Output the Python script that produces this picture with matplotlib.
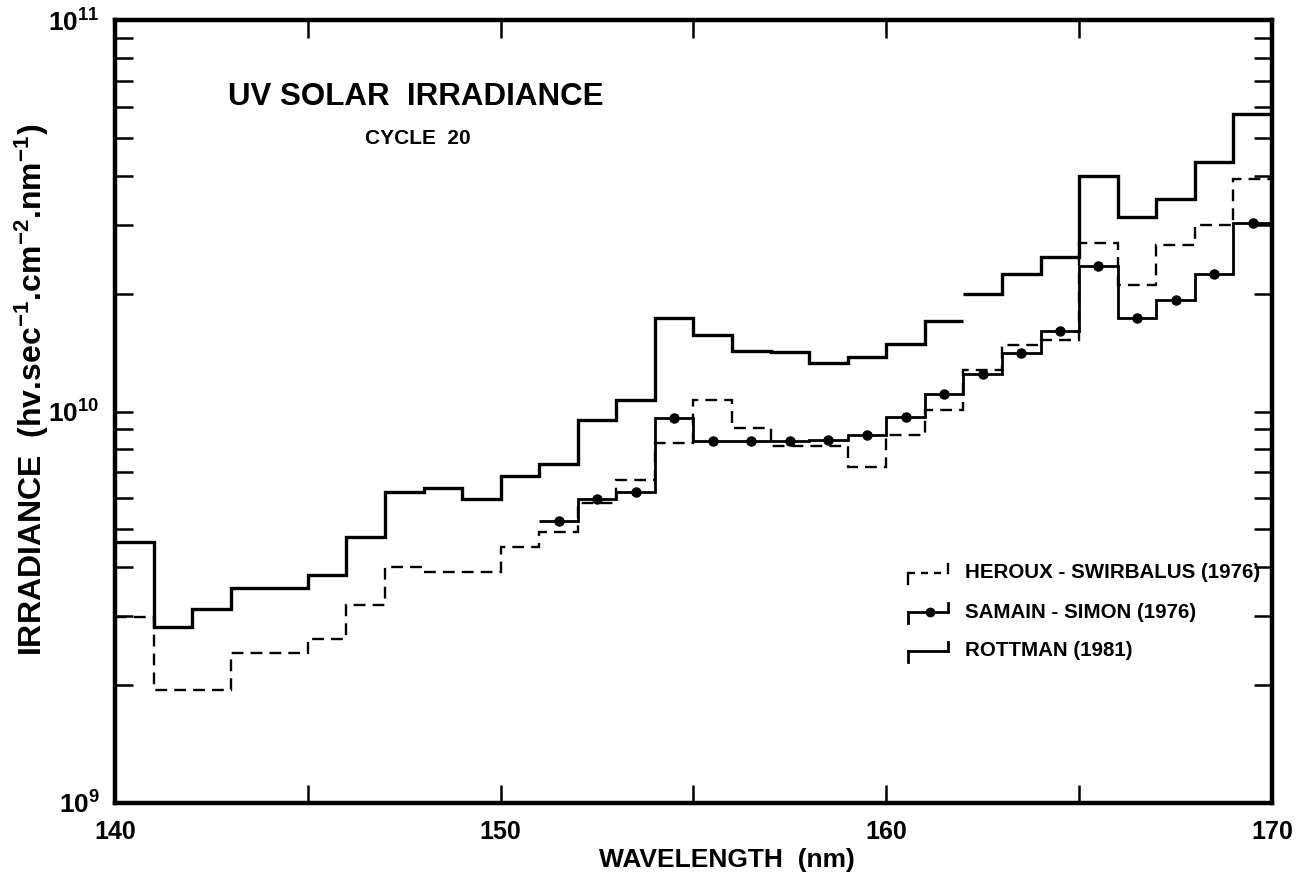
import matplotlib
matplotlib.use("Agg")
import matplotlib.pyplot as plt
from matplotlib.lines import Line2D
from matplotlib import font_manager
import numpy as np

# ---------------- data ----------------
# Rottman (1981), 1-nm bins, drawn in two pieces (gap at 162 nm)
rottman_edges_a = [140, 141, 142, 143, 144, 145, 146, 147, 148, 149, 150, 151, 152,
                   153, 154, 155, 156, 157, 158, 159, 160, 161, 162]
rottman_vals_a = [4.65e9, 2.82e9, 3.13e9, 3.55e9, 3.55e9, 3.83e9, 4.79e9, 6.24e9, 6.36e9,
                  5.99e9, 6.86e9, 7.36e9, 9.54e9, 1.067e10, 1.73e10, 1.565e10, 1.43e10,
                  1.415e10, 1.334e10, 1.374e10, 1.484e10, 1.70e10]
rottman_edges_b = [162, 163, 164, 165, 166, 167, 168, 169, 170]
rottman_vals_b = [1.99e10, 2.24e10, 2.48e10, 3.99e10, 3.13e10, 3.49e10, 4.33e10, 5.75e10]

# Heroux - Swirbalus (1976)
heroux_edges = [140, 141, 142, 143, 144, 145, 146, 147, 148, 149, 150, 151, 152, 153,
                154, 155, 156, 157, 158, 159, 160, 161, 162, 163, 164, 165, 166, 167,
                168, 169, 170]
heroux_vals = [2.99e9, 1.945e9, 1.945e9, 2.42e9, 2.42e9, 2.63e9, 3.21e9, 4.01e9, 3.90e9,
               3.90e9, 4.52e9, 4.93e9, 5.85e9, 6.70e9, 8.33e9, 1.067e10, 9.10e9, 8.14e9,
               8.14e9, 7.23e9, 8.73e9, 1.006e10, 1.28e10, 1.475e10, 1.52e10, 2.69e10,
               2.11e10, 2.67e10, 2.99e10, 3.92e10]

# Samain - Simon (1976)
samain_edges = [151, 152, 153, 154, 155, 156, 157, 158, 159, 160, 161, 162, 163, 164,
                165, 166, 167, 168, 169, 170]
samain_vals = [5.26e9, 5.99e9, 6.24e9, 9.60e9, 8.43e9, 8.43e9, 8.40e9, 8.45e9, 8.73e9,
               9.66e9, 1.11e10, 1.244e10, 1.41e10, 1.61e10, 2.36e10, 1.73e10, 1.93e10,
               2.25e10, 3.03e10]

x_ticks = [140, 150, 160, 170]
x_minor = [145, 155, 165]
y_ticks = [1e9, 1e10, 1e11]
y_ticklabels = [r"$\mathbf{10^{9}}$", r"$\mathbf{10^{10}}$", r"$\mathbf{10^{11}}$"]

legend_labels = ["HEROUX - SWIRBALUS (1976)", "SAMAIN - SIMON (1976)", "ROTTMAN (1981)"]

# ---------------- style ----------------
available = {f.name for f in font_manager.fontManager.ttflist}
FONT = "Liberation Sans" if "Liberation Sans" in available else "DejaVu Sans"
plt.rcParams["font.family"] = [FONT, "DejaVu Sans"]
plt.rcParams["font.weight"] = "bold"
plt.rcParams["mathtext.fontset"] = "custom"
plt.rcParams["mathtext.rm"] = f"{FONT}:bold"
plt.rcParams["mathtext.bf"] = f"{FONT}:bold"
plt.rcParams["mathtext.it"] = f"{FONT}:bold"

W, H = 1301, 876
fig = plt.figure(figsize=(W / 100, H / 100), dpi=100)
fig.patch.set_facecolor("white")

L, R, T, B = 115, 1272, 20, 803
ax = fig.add_axes([L / W, 1 - B / H, (R - L) / W, (B - T) / H])

ax.set_yscale("log")
ax.set_xlim(140, 170)
ax.set_ylim(1e9, 1e11)

# data
ax.stairs(rottman_vals_a, rottman_edges_a, baseline=None, color="black", lw=2.4)
ax.stairs(rottman_vals_b, rottman_edges_b, baseline=None, color="black", lw=2.4)
ax.stairs(heroux_vals, heroux_edges, baseline=None, color="black", lw=1.7,
          linestyle=(0, (5, 3)))
ax.stairs(samain_vals, samain_edges, baseline=None, color="black", lw=2.0)
centers = (np.array(samain_edges[:-1]) + np.array(samain_edges[1:])) / 2
ax.plot(centers, samain_vals, "o", color="black", ms=6.5, ls="none")

# axes styling
for s in ax.spines.values():
    s.set_linewidth(3.2)
ax.set_xticks(x_ticks)
ax.set_xticklabels([str(t) for t in x_ticks])
ax.set_xticks(x_minor, minor=True)
ax.set_yticks(y_ticks)
ax.set_yticklabels(y_ticklabels)
ax.yaxis.set_minor_locator(matplotlib.ticker.LogLocator(base=10, subs=np.arange(2, 10)))
ax.yaxis.set_minor_formatter(matplotlib.ticker.NullFormatter())
ax.tick_params(which="both", direction="in", top=True, right=True, width=1.8)
ax.tick_params(axis="x", which="both", length=13, labelsize=18, pad=12)
ax.tick_params(axis="y", which="both", length=13, labelsize=19, pad=11)

# labels
fig.text(727 / W, 1 - 860 / H, "WAVELENGTH  (nm)", ha="center", va="center",
         fontsize=19, fontweight="bold")
fig.text(32 / W, 1 - 390 / H,
         r"IRRADIANCE  (hv.sec$^{-1}$.cm$^{-2}$.nm$^{-1}$)",
         ha="center", va="center", rotation=90, fontsize=23, fontweight="bold")
fig.text(416 / W, 1 - 97 / H, "UV SOLAR  IRRADIANCE", ha="center", va="center",
         fontsize=22.5, fontweight="bold")
fig.text(418 / W, 1 - 138 / H, "CYCLE  20", ha="center", va="center",
         fontsize=15, fontweight="bold")

# legend (hand-drawn style glyphs)
def fx(px):
    return px / W

def fy(py):
    return 1 - py / H

legend_y = [573, 612, 651]
styles = [dict(lw=1.7, ls=(0, (3, 2.5))), dict(lw=2.0, ls="-"), dict(lw=2.0, ls="-")]
for i, (yy, st) in enumerate(zip(legend_y, styles)):
    fig.add_artist(Line2D([fx(908), fx(908)], [fy(yy + 11), fy(yy)], color="black",
                          lw=st["lw"], transform=fig.transFigure))
    fig.add_artist(Line2D([fx(908), fx(948)], [fy(yy), fy(yy)], color="black",
                          lw=st["lw"], ls=st["ls"], transform=fig.transFigure))
    fig.add_artist(Line2D([fx(948), fx(948)], [fy(yy), fy(yy - 9)], color="black",
                          lw=st["lw"], transform=fig.transFigure))
    if i == 1:
        fig.add_artist(Line2D([fx(930)], [fy(yy)], marker="o", ms=6, color="black",
                              transform=fig.transFigure))
    fig.text(fx(965), fy(yy), legend_labels[i], ha="left", va="center",
             fontsize=14.8, fontweight="bold")

fig.savefig("out.png", dpi=100, facecolor="white")
